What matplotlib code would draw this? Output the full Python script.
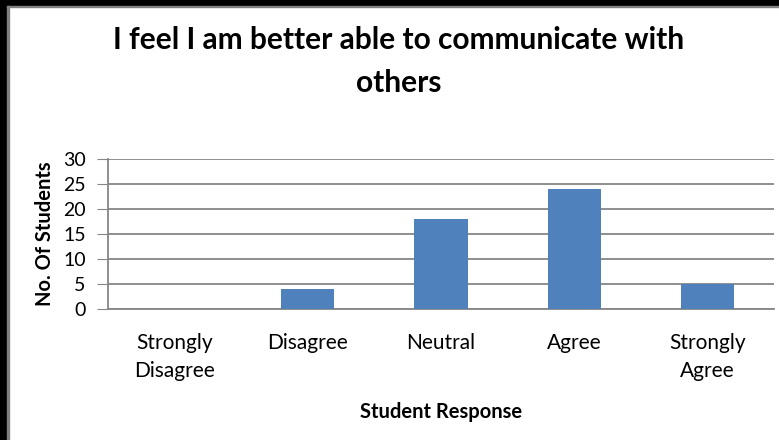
import matplotlib
matplotlib.use('Agg')
import matplotlib.pyplot as plt
from matplotlib.patches import Rectangle

# survey answers
categories = ['Strongly\nDisagree', 'Disagree', 'Neutral', 'Agree', 'Strongly\nAgree']
students = [0, 4, 18, 24, 5]
y_ticks = [0, 5, 10, 15, 20, 25, 30]

title = 'I feel I am better able to communicate with\nothers'
x_label = 'Student Response'
y_label = 'No. Of Students'

bar_color = '#4F81BD'
grid_color = '#868686'

plt.rcParams['font.family'] = ['Lato', 'DejaVu Sans']

W, H = 779, 440
fig = plt.figure(figsize=(W / 100, H / 100), dpi=100)
ax = fig.add_axes([108 / W, 1 - 309 / H, (774 - 108) / W, 150 / H])

x = list(range(len(categories)))
ax.bar(x, students, width=0.4, color=bar_color, zorder=3)

ax.set_xlim(-0.5, len(categories) - 0.5)
ax.set_ylim(0, 30)
ax.set_yticks(y_ticks)
ax.set_xticks(x)
ax.set_xticklabels(categories, fontsize=15, linespacing=1.55)
ax.tick_params(axis='x', length=0, pad=17)
ax.tick_params(axis='y', length=8, color=grid_color, labelsize=14, pad=8)

ax.grid(axis='y', color=grid_color, linewidth=1.3, zorder=0)
for side in ['top', 'right']:
    ax.spines[side].set_visible(False)
for side in ['left', 'bottom']:
    ax.spines[side].set_color(grid_color)
    ax.spines[side].set_linewidth(1.3)

ax.set_xlabel(x_label, fontsize=14.5, fontweight='bold', labelpad=15)
ax.set_ylabel(y_label, fontsize=14.5, fontweight='bold', labelpad=6)

fig.text(399 / W, 1 - 26 / H, title, ha='center', va='top', fontsize=21.5,
         fontweight='bold', linespacing=1.65)

# black frame on left and top edge, thin grey line inside it
fig.patches.append(Rectangle((0, 0), 7 / W, 1, transform=fig.transFigure,
                             color='black', zorder=10))
fig.patches.append(Rectangle((0, 1 - 6 / H), 1, 6 / H, transform=fig.transFigure,
                             color='black', zorder=10))
fig.patches.append(Rectangle((7 / W, 0), 1.5 / W, 1 - 6 / H, transform=fig.transFigure,
                             color='#808080', zorder=10))
fig.patches.append(Rectangle((7 / W, 1 - 7.5 / H), 1, 1.5 / H, transform=fig.transFigure,
                             color='#808080', zorder=10))

fig.savefig('out.png', dpi=100, facecolor='white')
